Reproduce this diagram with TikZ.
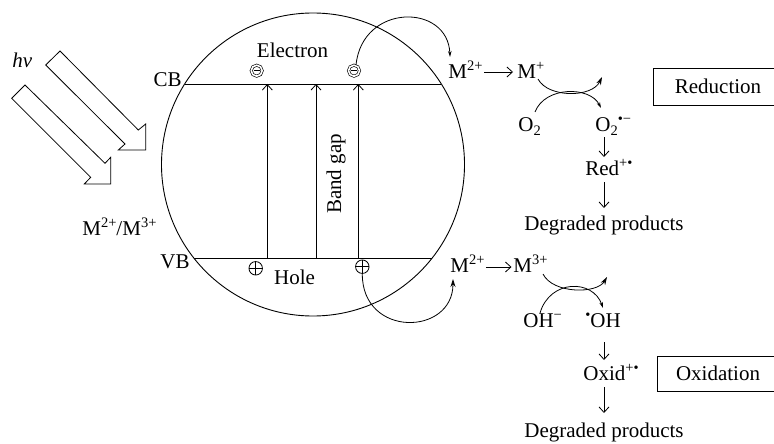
\documentclass[tikz,border=0pt]{standalone}
\usepackage{fontspec}
\setmainfont{Liberation Serif}
\usetikzlibrary{arrows.meta}
\newcommand\supr[1]{\raisebox{0.8ex}{\fontsize{14.5}{14.5}\selectfont #1}}
\newcommand\subr[1]{\raisebox{-0.5ex}{\fontsize{14.5}{14.5}\selectfont #1}}
\begin{document}
\begin{tikzpicture}[x=1pt,y=-1pt, line width=0.8pt,
  txt/.style={font=\fontsize{21}{24}\selectfont, inner sep=0pt},
  openarr/.style={-{Straight Barb[length=5.5pt,width=10pt,line width=0.8pt]}},
  fillarr/.style={-{Stealth[length=8pt,width=5pt]}},
  smallarr/.style={-{Stealth[length=6pt,width=3.5pt]}},
  elec/.style={circle,draw,double,double distance=1.6pt,line width=0.65pt,minimum size=11pt,inner sep=0pt},
  hole/.style={circle,draw,line width=0.8pt,minimum size=13.5pt,inner sep=0pt},
  boxlbl/.style={txt,draw,line width=0.8pt},
  blockarr/.style={draw,line width=0.8pt,fill=white,line join=miter}
]
\useasboundingbox (0,0) rectangle (774,444);

% light arrows
\draw[blockarr] (60,51) -- (138.3,130) -- (145.7,124) -- (145.7,150) -- (118.3,150) -- (125,144) -- (45.7,65) -- cycle;
\draw[blockarr] (25,85) -- (105,163.3) -- (110.7,157.3) -- (110.7,184) -- (84.3,184) -- (90.7,177.3) -- (11.7,98.3) -- cycle;
\node[txt,anchor=base west] (hv) at (12,68) {\itshape hν};
\node[txt,anchor=base west] (mm) at (82,235) {M\supr{2+}/M\supr{3+}};

% particle
\node[circle,draw,line width=0.9pt,minimum size=303pt,inner sep=0pt] (np) at (313,164.5) {};
\coordinate (cbl) at (184.7,84);
\coordinate (cbr) at (441.3,84);
\coordinate (vbl) at (193.8,258);
\coordinate (vbr) at (432.2,258);
\draw (cbl) -- (cbr);
\draw (vbl) -- (vbr);
\node[txt,anchor=base east] (cb) at (182,87) {CB};
\node[txt,anchor=base east] (vb) at (190,268) {VB};

\coordinate (v1b) at (267.3,258); \coordinate (v1t) at (267.3,84);
\coordinate (v2b) at (316,258);   \coordinate (v2t) at (316,84);
\coordinate (v3b) at (358.3,258); \coordinate (v3t) at (358.3,84);
\draw[openarr] (v1b) -- (v1t);
\draw[openarr] (v2b) -- (v2t);
\draw[openarr] (v3b) -- (v3t);
\node[txt,rotate=90] (bg) at (336,174) {Band gap};

\node[txt,anchor=base] (elab) at (292.5,58) {Electron};
\node[txt,anchor=base] (hlab) at (294.5,284) {Hole};

\node[elec] (e1) at (256.7,70.7) {};
\node[elec] (e2) at (354,70.7) {};
\draw[line width=0.65pt] ([xshift=-2.8pt]e1.center) -- ([xshift=2.8pt]e1.center);
\draw[line width=0.65pt] ([xshift=-2.8pt]e2.center) -- ([xshift=2.8pt]e2.center);
\node[hole] (h1) at (255.7,268.3) {};
\node[hole] (h2) at (362.3,266.7) {};
\draw[line width=0.7pt] (h1.north) -- (h1.south) (h1.west) -- (h1.east);
\draw[line width=0.7pt] (h2.north) -- (h2.south) (h2.west) -- (h2.east);

% transfer arcs
\coordinate (et) at (450,57);
\draw[smallarr] (e2.70) .. controls (362,3) and (448,3) .. (et);
\coordinate (ht) at (453,279);
\draw[fillarr] (h2.south) .. controls (362,338) and (453,336) .. (ht);

% reduction branch
\node[txt,anchor=base west] (mt) at (448,78) {M\supr{2+}};
\node[txt,anchor=base west] (mp) at (517,78) {M\supr{+}};
\draw[openarr] ([yshift=6pt,xshift=1.5pt]mt.base east) -- ([yshift=6pt,xshift=-4pt]mp.base west);
\node[txt,anchor=base west] (o2) at (518,131) {O\subr{2}};
\node[txt,anchor=base west] (o2m) at (595,131) {O\subr{2}\supr{•−}};
\coordinate (u1s) at (538,79); \coordinate (u1e) at (602,77);
\coordinate (r1s) at (535,112); \coordinate (r1e) at (601,108);
\draw[fillarr] (u1s) .. controls (548,98) and (592,98) .. (u1e);
\draw[smallarr] (r1s) .. controls (545,86) and (590,86) .. (r1e);
\node[txt,anchor=base west] (red) at (585,175) {Red\supr{+•}};
\node[txt,anchor=base] (dp1) at (604,230) {Degraded products};
\coordinate (a1s) at (604,137); \coordinate (a1e) at (604,157);
\coordinate (a2s) at (604,182); \coordinate (a2e) at (604,208);
\draw[openarr] (a1s) -- (a1e);
\draw[openarr] (a2s) -- (a2e);
\node[boxlbl,minimum width=130pt,minimum height=37pt] (redbox) at (718,86.5) {Reduction};

% oxidation branch
\node[txt,anchor=base west] (mb) at (450,272) {M\supr{2+}};
\node[txt,anchor=base west] (m3) at (513,272) {M\supr{3+}};
\draw[openarr] ([yshift=5pt,xshift=1pt]mb.base east) -- ([yshift=5pt,xshift=-1.5pt]m3.base west);
\node[txt,anchor=base west] (ohm) at (523,327) {OH\supr{−}};
\node[txt,anchor=base west] (oh) at (585,327) {\supr{•}OH};
\coordinate (u2s) at (543,274); \coordinate (u2e) at (607,277);
\coordinate (r2s) at (540,313); \coordinate (r2e) at (603,308);
\draw[fillarr] (u2s) .. controls (553,294) and (597,294) .. (u2e);
\draw[smallarr] (r2s) .. controls (550,279) and (593,279) .. (r2e);
\node[txt,anchor=base west] (oxid) at (583,380) {Oxid\supr{+•}};
\node[txt,anchor=base] (dp2) at (604,437) {Degraded products};
\coordinate (b1s) at (604,342); \coordinate (b1e) at (604,360);
\coordinate (b2s) at (604,387); \coordinate (b2e) at (604,413);
\draw[openarr] (b1s) -- (b1e);
\draw[openarr] (b2s) -- (b2e);
\node[boxlbl,minimum width=122pt,minimum height=35pt] (oxbox) at (718,373.5) {Oxidation};
\end{tikzpicture}
\end{document}
